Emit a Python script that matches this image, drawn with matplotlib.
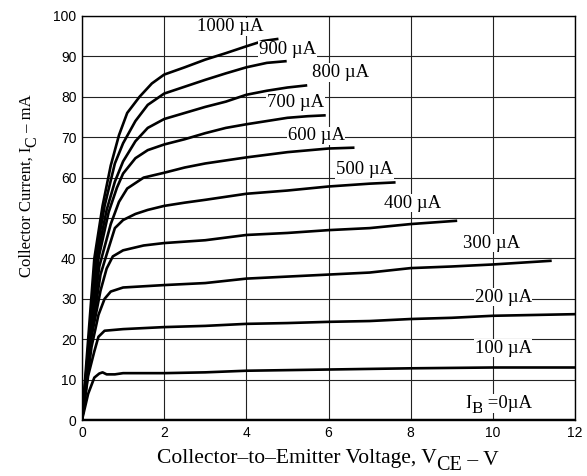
import matplotlib
matplotlib.use("Agg")
import matplotlib.pyplot as plt

SERIF = "Liberation Serif"
SANS = "Liberation Sans"

# Base current curves: label, vce values, ic values
ib_labels = ["1000 µA", "900 µA", "800 µA", "700 µA", "600 µA",
             "500 µA", "400 µA", "300 µA", "200 µA", "100 µA"]

vce_1000 = [0, 0.15, 0.3, 0.5, 0.7, 0.9, 1.1, 1.4, 1.7, 2.0, 2.5, 3.0, 3.5, 4.0, 4.4, 4.75]
ic_1000 = [0, 20, 40, 53, 63, 70.5, 76, 80, 83.3, 85.5, 87.3, 89.2, 90.8, 92.5, 93.8, 94.3]

vce_900 = [0, 0.17, 0.33, 0.55, 0.8, 1.0, 1.3, 1.6, 2.0, 2.5, 3.0, 3.5, 4.0, 4.5, 4.95]
ic_900 = [0, 20, 40, 53, 63.5, 68.5, 74, 78, 80.8, 82.5, 84.2, 85.8, 87.3, 88.4, 88.8]

vce_800 = [0, 0.18, 0.36, 0.6, 0.8, 1.0, 1.3, 1.6, 2.0, 2.5, 3.0, 3.5, 4.0, 4.5, 5.0, 5.45]
ic_800 = [0, 20, 40, 52, 59, 64, 69, 72.3, 74.5, 76, 77.5, 78.8, 80.5, 81.5, 82.3, 82.8]

vce_700 = [0, 0.19, 0.4, 0.65, 0.85, 1.0, 1.3, 1.6, 2.0, 2.5, 3.0, 3.5, 4.0, 4.5, 5.0, 5.5, 5.9]
ic_700 = [0, 20, 40, 51.5, 57.5, 61, 64.8, 66.8, 68.2, 69.5, 71, 72.3, 73.2, 74, 74.8, 75.2, 75.4]

vce_600 = [0, 0.2, 0.42, 0.7, 0.9, 1.1, 1.5, 2.0, 2.5, 3.0, 4.0, 5.0, 6.0, 6.6]
ic_600 = [0, 20, 38, 48.5, 54, 57.3, 60, 61.2, 62.5, 63.5, 65, 66.3, 67.2, 67.4]

vce_500 = [0, 0.21, 0.45, 0.6, 0.8, 1.0, 1.3, 1.6, 2.0, 2.5, 3.0, 4.0, 5.0, 6.0, 7.0, 7.6]
ic_500 = [0, 20, 36, 41, 47.5, 49.5, 51, 52, 53, 53.8, 54.5, 56, 56.8, 57.8, 58.5, 58.8]

vce_400 = [0, 0.22, 0.45, 0.6, 0.75, 1.0, 1.5, 2.0, 3.0, 4.0, 5.0, 6.0, 7.0, 8.0, 9.1]
ic_400 = [0, 20, 32, 37.5, 40.5, 42, 43.2, 43.8, 44.5, 45.8, 46.3, 47, 47.5, 48.5, 49.3]

vce_300 = [0, 0.23, 0.4, 0.55, 0.7, 1.0, 2.0, 3.0, 4.0, 5.0, 6.0, 7.0, 8.0, 9.0, 10.0, 11.4]
ic_300 = [0, 18, 26, 30, 31.8, 32.8, 33.4, 33.9, 35, 35.5, 36, 36.5, 37.6, 38, 38.5, 39.4]

vce_200 = [0, 0.15, 0.3, 0.4, 0.55, 1.0, 2.0, 3.0, 4.0, 5.0, 6.0, 7.0, 8.0, 9.0, 10.0, 12.0]
ic_200 = [0, 11, 17, 20.6, 22.1, 22.5, 23, 23.3, 23.8, 24, 24.3, 24.5, 25, 25.3, 25.8, 26.2]

vce_100 = [0, 0.15, 0.3, 0.42, 0.5, 0.6, 0.8, 1.0, 2.0, 3.0, 4.0, 6.0, 8.0, 10.0, 12.0]
ic_100 = [0, 6.5, 10.5, 11.5, 11.8, 11.3, 11.3, 11.6, 11.6, 11.8, 12.2, 12.5, 12.8, 13, 13]

vce_0 = [0, 12]
ic_0 = [0, 0]

curves_v = [vce_1000, vce_900, vce_800, vce_700, vce_600,
            vce_500, vce_400, vce_300, vce_200, vce_100]
curves_i = [ic_1000, ic_900, ic_800, ic_700, ic_600,
            ic_500, ic_400, ic_300, ic_200, ic_100]

# label anchor points (data coords)
label_x = [3.6, 5.0, 6.3, 5.2, 5.7, 6.87, 8.05, 9.96, 10.25, 10.25]
label_y = [97.3, 91.6, 86.0, 78.7, 70.3, 61.9, 53.7, 43.8, 30.4, 17.8]

fig = plt.figure(figsize=(5.87, 4.76), dpi=100)
ax = fig.add_axes([0.1397, 0.1176, 0.8399, 0.8488])

for v, i in zip(curves_v, curves_i):
    ax.plot(v, i, color="black", lw=1.9, solid_joinstyle="round", zorder=3)
ax.plot(vce_0, ic_0, color="black", lw=2.5, zorder=3)

box = dict(facecolor="white", edgecolor="none", pad=0.5)
for lab, x, y in zip(ib_labels, label_x, label_y):
    ax.text(x, y, lab, family=SERIF, fontsize=13.5, ha="center", va="center",
            bbox=box, zorder=4)

# I_B = 0 label built from pieces so the subscript keeps a large size
t0 = ax.text(9.32, 3.0, "I", family=SERIF, fontsize=13.5, ha="left",
             va="baseline", bbox=box, zorder=4)
t0b = ax.annotate("B", xy=(1, 0), xycoords=t0, xytext=(0, -1),
                  textcoords="offset pixels", family=SERIF, fontsize=12.5,
                  ha="left", va="baseline", bbox=box, zorder=4)
ax.annotate(" =0µA", xy=(1, 0), xycoords=t0b, xytext=(0, 9),
            textcoords="offset pixels", family=SERIF, fontsize=13.5,
            ha="left", va="baseline", bbox=box, zorder=4)

ax.set_xlim(0, 12)
ax.set_ylim(0, 100)
ax.set_xticks(range(0, 13, 2))
ax.set_yticks(range(0, 101, 10))
ax.tick_params(length=0, labelsize=10, pad=4)
for t in ax.get_xticklabels() + ax.get_yticklabels():
    t.set_family(SANS)
ax.grid(True, color="#222222", lw=0.8, zorder=1)
for s in ax.spines.values():
    s.set_linewidth(1.0)

# x label: text + large subscript + tail
xl = fig.text(0.267, 0.028, "Collector–to–Emitter Voltage, V", family=SERIF,
              fontsize=15.5, ha="left", va="baseline")
xs = ax.annotate("CE", xy=(1, 0), xycoords=xl, xytext=(0, -2),
                 textcoords="offset pixels", family=SERIF, fontsize=14.5,
                 ha="left", va="baseline", annotation_clip=False)
ax.annotate(" – V", xy=(1, 0), xycoords=xs, xytext=(0, 10),
            textcoords="offset pixels", family=SERIF, fontsize=15.5,
            ha="left", va="baseline", annotation_clip=False)

# y label: rotated text + large subscript + tail
yl = fig.text(0.046, 0.418, "Collector Current, I", family=SERIF,
              fontsize=12, rotation=90, ha="center", va="bottom")
ys = ax.annotate("C", xy=(0.5, 1), xycoords=yl, xytext=(5, 0),
                 textcoords="offset pixels", family=SERIF, fontsize=11.5,
                 rotation=90, ha="center", va="bottom", annotation_clip=False)
ax.annotate(" – mA", xy=(0.5, 1), xycoords=ys, xytext=(-5, 0),
            textcoords="offset pixels", family=SERIF, fontsize=12,
            rotation=90, ha="center", va="bottom", annotation_clip=False)

fig.savefig("out.png", dpi=100)
